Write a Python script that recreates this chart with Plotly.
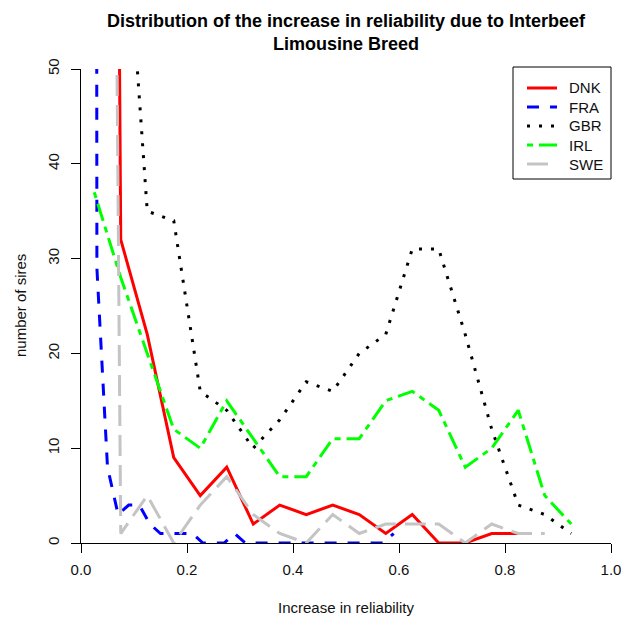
import plotly.graph_objects as go

# ---- data ----
x_dnk = [0.025, 0.075, 0.125, 0.175, 0.225, 0.275, 0.325, 0.375, 0.425, 0.475,
         0.525, 0.575, 0.625, 0.675, 0.725, 0.775, 0.825]
dnk = [430, 32, 22, 9, 5, 8, 2, 4, 3, 4, 3, 1, 3, 0, 0, 1, 1]

x_fra = [0.01, 0.03, 0.05, 0.07, 0.09, 0.11, 0.13, 0.15, 0.17, 0.19, 0.21, 0.23,
         0.25, 0.27, 0.29, 0.31, 0.33, 0.35, 0.37, 0.39, 0.41, 0.43, 0.45, 0.47,
         0.49, 0.51, 0.53, 0.55, 0.57, 0.59]
fra = [1500, 29, 8, 3, 4, 4, 2, 1, 1, 1, 1, 0, 0, 0, 1, 0, 0, 0, 0, 0, 0, 0, 0, 0,
       0, 0, 0, 0, 0, 1]

x_gbr = [0.075, 0.125, 0.175, 0.225, 0.275, 0.325, 0.375, 0.425, 0.475, 0.525,
         0.575, 0.625, 0.675, 0.725, 0.775, 0.825, 0.875, 0.925]
gbr = [75, 35, 34, 16, 14, 10, 13, 17, 16, 20, 22, 31, 31, 22, 12, 4, 3, 1]

x_irl = [0.025, 0.075, 0.125, 0.175, 0.225, 0.275, 0.325, 0.375, 0.425, 0.475,
         0.525, 0.575, 0.625, 0.675, 0.725, 0.775, 0.825, 0.875, 0.925]
irl = [37, 28, 20, 12, 10, 15, 11, 7, 7, 11, 11, 15, 16, 14, 8, 10, 14, 5, 2]

x_swe = [0.025, 0.075, 0.125, 0.175, 0.225, 0.275, 0.325, 0.375, 0.425, 0.475,
         0.525, 0.575, 0.625, 0.675, 0.725, 0.775, 0.825, 0.875]
swe = [350, 1, 5, 0, 4, 7, 3, 1, 0, 3, 1, 2, 2, 2, 0, 2, 1, 1]

x_ticks = [0.0, 0.2, 0.4, 0.6, 0.8, 1.0]
x_ticktext = ["0.0", "0.2", "0.4", "0.6", "0.8", "1.0"]
y_ticks = [0, 10, 20, 30, 40, 50]
y_ticktext = ["0", "10", "20", "30", "40", "50"]

series_names = ["DNK", "FRA", "GBR", "IRL", "SWE"]
series_x = [x_dnk, x_fra, x_gbr, x_irl, x_swe]
series_y = [dnk, fra, gbr, irl, swe]

# ---- styles ----
colors = ["#FF0000", "#0000FF", "#000000", "#00FF00", "#C4C4C4"]
dashes = ["solid", "12px,11px", "3px,9px", "6px,6px,18px,6px", "21px,9px"]
LW = 3

W, H = 621, 617
ML, MR, MT, MB = 81, 10, 69, 74
PW = W - ML - MR
PH = H - MT - MB
FONT = "Liberation Sans, Arial, sans-serif"
TXT = "#111111"


def px(xp):
    return (xp - ML) / PW


def py(yp):
    return (H - MB - yp) / PH


fig = go.Figure()
for name, xs, ys, c, d in zip(series_names, series_x, series_y, colors, dashes):
    fig.add_trace(go.Scatter(x=xs, y=ys, mode="lines", name=name,
                             line=dict(color=c, width=LW, dash=d),
                             showlegend=False, hoverinfo="skip"))

shapes = []
annotations = []

# legend box (manual, to mimic R legend)
shapes.append(dict(type="rect", xref="paper", yref="paper",
                   x0=px(513), x1=px(611), y0=py(179), y1=py(67),
                   line=dict(color="#000000", width=1), fillcolor="white",
                   layer="above"))
leg_y = [88, 107, 126, 145, 164]
for name, c, d, yy in zip(series_names, colors, dashes, leg_y):
    shapes.append(dict(type="line", xref="paper", yref="paper",
                       x0=px(527), x1=px(557), y0=py(yy), y1=py(yy),
                       line=dict(color=c, width=LW, dash=d), layer="above"))
    annotations.append(dict(text=name, xref="paper", yref="paper",
                            x=px(567), y=py(yy), xanchor="left", yanchor="middle",
                            showarrow=False, font=dict(size=15, color=TXT, family=FONT)))

# title
annotations.append(dict(text="<b>Distribution of the increase in reliability due to Interbeef<br>Limousine Breed</b>",
                        xref="paper", yref="paper", x=px(346), y=py(32.5),
                        xanchor="center", yanchor="middle", showarrow=False,
                        font=dict(size=18, color="#000000", family=FONT)))
# axis titles
annotations.append(dict(text="Increase in reliability", xref="paper", yref="paper",
                        x=px(346), y=py(607), xanchor="center", yanchor="middle",
                        showarrow=False, font=dict(size=15, color=TXT, family=FONT)))
annotations.append(dict(text="number of sires", xref="paper", yref="paper",
                        x=px(20), y=py(306), xanchor="center", yanchor="middle",
                        textangle=-90, showarrow=False,
                        font=dict(size=15, color=TXT, family=FONT)))

fig.update_layout(
    width=W, height=H,
    margin=dict(l=ML, r=MR, t=MT, b=MB, pad=0, autoexpand=False),
    paper_bgcolor="white", plot_bgcolor="white",
    font=dict(family=FONT, size=15, color=TXT),
    shapes=shapes, annotations=annotations,
    showlegend=False,
    xaxis=dict(range=[0, 1], tickvals=x_ticks, ticktext=x_ticktext,
               showgrid=False, zeroline=False, showline=True, linecolor="#000000",
               linewidth=1, ticks="outside", ticklen=9, tickcolor="#000000",
               tickwidth=1, ticklabelstandoff=4, ticklabeloverflow="allow",
               automargin=False, layer="below traces",
               tickfont=dict(size=15, color=TXT, family=FONT), fixedrange=True),
    yaxis=dict(range=[0, 50], tickvals=y_ticks, ticktext=y_ticktext,
               showgrid=False, zeroline=False, showline=True, linecolor="#000000",
               linewidth=1, ticks="outside", ticklen=9, tickcolor="#000000",
               tickwidth=1, tickangle=-90, ticklabelstandoff=6,
               ticklabeloverflow="allow", automargin=False, layer="below traces",
               tickfont=dict(size=15, color=TXT, family=FONT), fixedrange=True),
)

fig.write_html("out.html", config={"displayModeBar": False},
               post_script="document.body.style.margin='0';document.body.style.overflow='hidden';")
